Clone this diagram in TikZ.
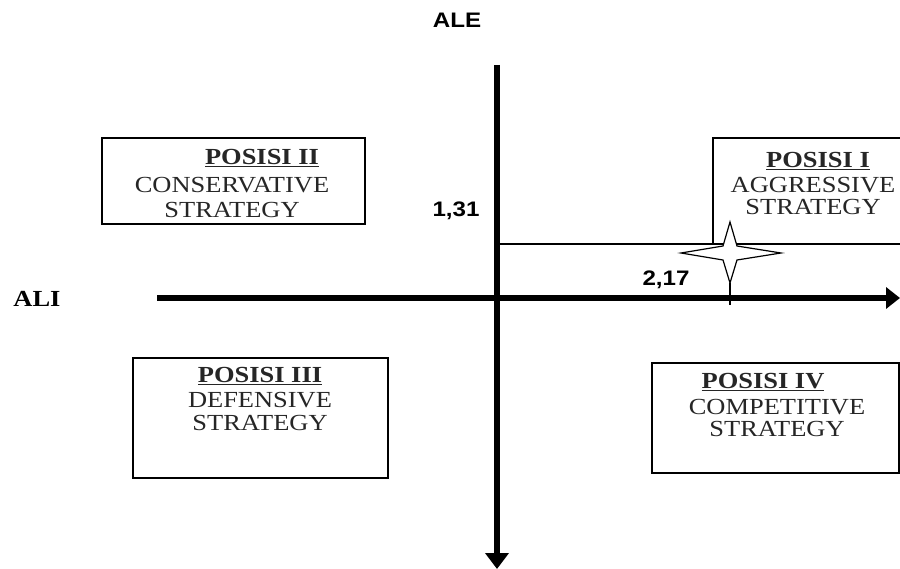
\documentclass[tikz,border=0pt]{standalone}
\usepackage{fontspec}
\setmainfont[FakeStretch=1.15]{Liberation Serif}
\newfontfamily\arialfont[FakeStretch=1.15]{Liberation Sans}
\usetikzlibrary{arrows.meta}
\begin{document}
\begin{tikzpicture}[x=1pt,y=-1pt,
  btext/.style={inner sep=0pt, font=\fontsize{23}{24}\selectfont, text=black!85, anchor=center},
  axislabel/.style={inner sep=0pt, font=\arialfont\bfseries\fontsize{21}{22}\selectfont},
  axis/.style={line width=5.5pt, -{Triangle[length=16pt,width=23pt]}},
  thin/.style={line width=1.2pt}]
\useasboundingbox (0,0) rectangle (900,569);
% boxes
\draw[thin] (102,138) rectangle (365,224);
\draw[thin] (133,358) rectangle (388,478);
\draw[thin] (652,363) rectangle (899,473);
\draw[thin] (905,138) -- (713,138) -- (713,244);
% thin line from axis
\coordinate (c131) at (497,244);
\coordinate (cbox) at (905,244);
\draw[thin] (c131) -- (cbox);
% axes
\coordinate (vtop) at (497,65);
\coordinate (vbot) at (497,569);
\coordinate (hl) at (157,298);
\coordinate (hr) at (900,298);
\draw[axis] (vtop) -- (vbot);
\draw[line width=5.5pt, -{Triangle[length=14pt,width=21pt]}] (hl) -- (hr);
% star
\coordinate (sbase) at (730,305);
\coordinate (sbot) at (730,283);
\draw[thin] (sbot) -- (sbase);
\draw[thin, fill=white, line join=miter]
  (730,222) -- (737,246) -- (781,253) -- (737,260) -- (730,283) -- (723,260) -- (681,253) -- (723,246) -- cycle;
% labels
\node[axislabel] (ale) at (457,20) {ALE};
\node[inner sep=0pt, font=\bfseries\fontsize{23}{24}\selectfont] (ali) at (37,299) {ALI};
\node[axislabel] (v131) at (456,211) {1,31};
\node[axislabel] (v217) at (666,280) {2,17};
% box texts
\node[btext] (t2a) at (262,158) {\textbf{\underline{POSISI II}}};
\node[btext] (t2b) at (232,185) {CONSERVATIVE};
\node[btext] (t2c) at (232,210) {STRATEGY};
\node[btext] (t1a) at (818,161) {\textbf{\underline{POSISI I}}};
\node[btext] (t1b) at (813,185) {AGGRESSIVE};
\node[btext] (t1c) at (813,207) {STRATEGY};
\node[btext] (t3a) at (260,376) {\textbf{\underline{POSISI III}}};
\node[btext] (t3b) at (260,400) {DEFENSIVE};
\node[btext] (t3c) at (260,423) {STRATEGY};
\node[btext] (t4a) at (763,382) {\textbf{\underline{POSISI IV}}};
\node[btext] (t4b) at (777,407) {COMPETITIVE};
\node[btext] (t4c) at (777,429) {STRATEGY};
\end{tikzpicture}
\end{document}
